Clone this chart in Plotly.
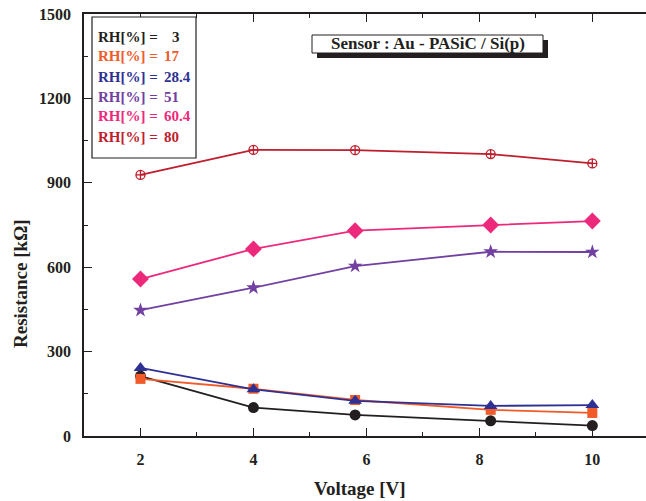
import plotly.graph_objects as go

voltage = [2, 4, 5.8, 8.2, 10]
rh_labels = ["3", "17", "28.4", "51", "60.4", "80"]
res_rh3 = [213, 101, 75, 54, 37]
res_rh17 = [203, 168, 128, 93, 82]
res_rh28 = [242, 166, 125, 107, 110]
res_rh51 = [447, 527, 604, 655, 654]
res_rh60 = [558, 665, 730, 750, 764]
res_rh80 = [928, 1017, 1016, 1002, 969]
x_ticks = [2, 4, 6, 8, 10]
y_ticks = [0, 300, 600, 900, 1200, 1500]

series = [res_rh3, res_rh17, res_rh28, res_rh51, res_rh60, res_rh80]
colors = ["#231f20", "#f15a29", "#2e3192", "#7140a0", "#ec297b", "#be1e2d"]
symbols = ["circle", "square", "triangle-up", "star", "diamond", "circle-cross-open"]
sizes = [11, 10, 12, 11, 13, 9]

FONT = "Liberation Serif, Times New Roman, serif"

fig = go.Figure()
for vals, c, s, sz, lab in zip(series, colors, symbols, sizes, rh_labels):
    mk = dict(symbol=s, size=sz, color=c)
    if s == "circle-cross-open":
        mk["line"] = dict(color=c, width=1.3)
    fig.add_trace(go.Scatter(
        x=voltage, y=vals, mode="lines+markers", name="RH[%] = " + lab,
        line=dict(color=c, width=1.8), marker=mk, showlegend=False))

L, T, B = 84, 14, 65
W, H = 646, 501
pw = W - L
ph = H - T - B

def px(x):
    return (x - L) / pw

def py(y):
    return (H - B - y) / ph

shapes = []
shapes.append(dict(type="rect", xref="paper", yref="paper",
                   x0=px(317), x1=px(548), y0=py(58), y1=py(40),
                   fillcolor="#231f20", line=dict(width=0), layer="above"))
shapes.append(dict(type="rect", xref="paper", yref="paper",
                   x0=px(312), x1=px(543), y0=py(53), y1=py(35),
                   fillcolor="white", line=dict(color="#231f20", width=1), layer="above"))
shapes.append(dict(type="rect", xref="paper", yref="paper",
                   x0=px(92), x1=px(196), y0=py(158), y1=py(17),
                   fillcolor="white", line=dict(color="#231f20", width=1.2), layer="above"))

def tfont(size, color="#231f20"):
    return dict(family=FONT, size=size, color=color, weight="bold")

annotations = []
annotations.append(dict(xref="paper", yref="paper", x=px(428), y=py(44),
                        text="Sensor : Au - PASiC / Si(p)", showarrow=False,
                        font=tfont(17), xanchor="center", yanchor="middle"))
for i, (lab, c) in enumerate(zip(rh_labels, colors)):
    yy = 36.5 + 20 * i
    annotations.append(dict(xref="paper", yref="paper", x=px(96), y=py(yy),
                            text="RH[%] =", showarrow=False, font=tfont(15, c),
                            xanchor="left", yanchor="middle"))
    xv = 170 if lab == "3" else 162
    annotations.append(dict(xref="paper", yref="paper", x=px(xv), y=py(yy),
                            text=lab, showarrow=False, font=tfont(15, c),
                            xanchor="left", yanchor="middle"))
annotations.append(dict(xref="paper", yref="paper", x=px(360), y=py(488),
                        text="Voltage [V]", showarrow=False, font=tfont(19),
                        xanchor="center", yanchor="middle"))
annotations.append(dict(xref="paper", yref="paper", x=px(20), y=py(284),
                        text="Resistance [kΩ]", showarrow=False, textangle=-90,
                        font=tfont(19), xanchor="center", yanchor="middle"))

axis_common = dict(showgrid=False, zeroline=False, showline=True, linecolor="#231f20", linewidth=1.5,
                   ticks="inside", ticklen=8, tickwidth=1.3, tickcolor="#231f20",
                   tickfont=tfont(16), ticklabelstandoff=8)

fig.update_layout(
    width=W, height=H,
    margin=dict(l=L, r=0, t=T, b=B),
    paper_bgcolor="white", plot_bgcolor="white",
    shapes=shapes, annotations=annotations,
    xaxis=dict(range=[1, 10.95], tickvals=x_ticks, mirror="ticks",
               minor=dict(dtick=1, tick0=1, ticks="inside", ticklen=4, tickwidth=1.2, tickcolor="#231f20"),
               **axis_common),
    yaxis=dict(range=[0, 1500], tickvals=y_ticks, mirror=False,
               minor=dict(dtick=150, tick0=0, ticks="inside", ticklen=4, tickwidth=1.2, tickcolor="#231f20"),
               **axis_common),
)

fig.write_html("out.html")
